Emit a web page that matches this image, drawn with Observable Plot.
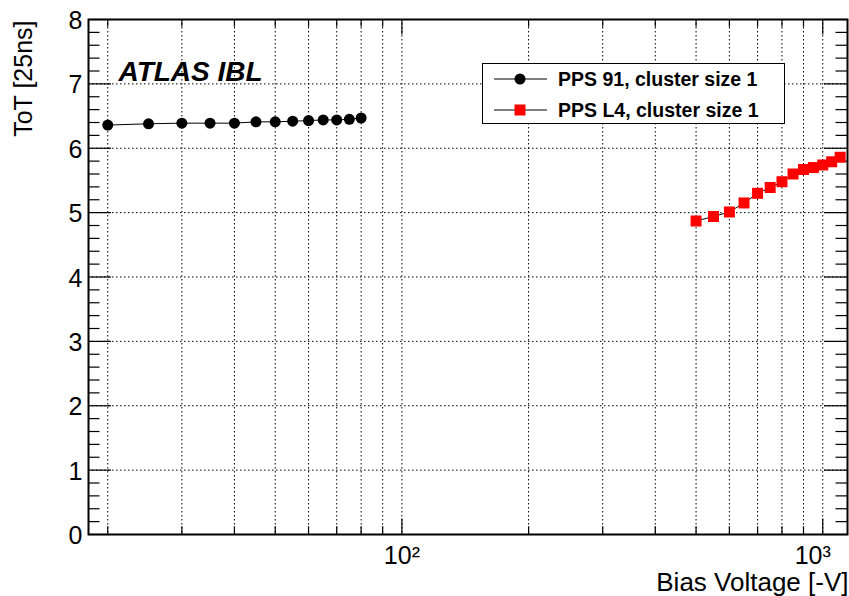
<!DOCTYPE html>
<html>
<head>
<meta charset="utf-8">
<script src="https://cdn.jsdelivr.net/npm/d3@7"></script>
<script src="https://cdn.jsdelivr.net/npm/@observablehq/plot@0.6"></script>
<style>
  html, body { margin: 0; padding: 0; background: #fff; }
  #chart { width: 849px; height: 596px; }
</style>
</head>
<body>
<div id="chart"></div>
<script>
// ---- data ----
const pps91Voltage = [20, 25, 30, 35, 40, 45, 50, 55, 60, 65, 70, 75, 80];
const pps91ToT = [6.36, 6.38, 6.39, 6.39, 6.39, 6.41, 6.41, 6.42, 6.43, 6.44, 6.44, 6.45, 6.47];
const ppsL4Voltage = [500, 550, 600, 650, 700, 750, 800, 850, 900, 950, 1000, 1050, 1100];
const ppsL4ToT = [4.87, 4.94, 5.01, 5.15, 5.30, 5.39, 5.48, 5.60, 5.67, 5.70, 5.74, 5.79, 5.86];
const seriesNames = ["PPS 91, cluster size 1", "PPS L4, cluster size 1"];
const xMajorTicks = [100, 1000];
const xMajorLabels = ["10²", "10³"];
const xMinorTicks = [20, 30, 40, 50, 60, 70, 80, 90, 200, 300, 400, 500, 600, 700, 800, 900];
const yMajorTicks = [0, 1, 2, 3, 4, 5, 6, 7, 8];
const yMinorTicks = d3.range(0, 40).map(i => i / 5).filter(v => !Number.isInteger(v));
const xTitle = "Bias Voltage [-V]";
const yTitle = "ToT [25ns]";
const annotation = "ATLAS IBL";

// ---- layout ----
const W = 849, H = 596;
const mL = 88, mR = 2, mT = 19, mB = 62;
const fw = W - mL - mR, fh = H - mT - mB;
const font = "'Liberation Sans', Arial, Helvetica, sans-serif";

const black = pps91Voltage.map((v, i) => ({v, t: pps91ToT[i]}));
const red = ppsL4Voltage.map((v, i) => ({v, t: ppsL4ToT[i]}));
const xLabels = xMajorTicks.map((v, i) => ({v, label: xMajorLabels[i]}));
const dash = "1.5,2.5";

const chart = Plot.plot({
  width: W, height: H,
  marginLeft: mL, marginRight: mR, marginTop: mT, marginBottom: mB,
  style: {fontFamily: font, background: "#fff", color: "#000"},
  x: {type: "log", domain: [18, 1145], axis: null},
  y: {domain: [0, 8], axis: null},
  marks: [
    Plot.gridX([...xMinorTicks, ...xMajorTicks], {stroke: "#000", strokeOpacity: 1, strokeWidth: 1, strokeDasharray: dash}),
    Plot.gridY(yMajorTicks.slice(1, -1), {stroke: "#000", strokeOpacity: 1, strokeWidth: 1, strokeDasharray: dash}),
    // y ticks (inside, left and right)
    Plot.tickY(yMajorTicks, {y: d => d, insetRight: fw - 23, stroke: "#000", strokeWidth: 1.2}),
    Plot.tickY(yMajorTicks, {y: d => d, insetLeft: fw - 23, stroke: "#000", strokeWidth: 1.2}),
    Plot.tickY(yMinorTicks, {y: d => d, insetRight: fw - 11.5, stroke: "#000", strokeWidth: 1.2}),
    Plot.tickY(yMinorTicks, {y: d => d, insetLeft: fw - 11.5, stroke: "#000", strokeWidth: 1.2}),
    // x ticks (inside, bottom and top)
    Plot.tickX(xMajorTicks, {x: d => d, insetTop: fh - 15.5, stroke: "#000", strokeWidth: 1.2}),
    Plot.tickX(xMajorTicks, {x: d => d, insetBottom: fh - 15.5, stroke: "#000", strokeWidth: 1.2}),
    Plot.tickX(xMinorTicks, {x: d => d, insetTop: fh - 7.7, stroke: "#000", strokeWidth: 1.2}),
    Plot.tickX(xMinorTicks, {x: d => d, insetBottom: fh - 7.7, stroke: "#000", strokeWidth: 1.2}),
    Plot.frame({stroke: "#000", strokeWidth: 2}),
    // y tick labels
    Plot.axisY(yMajorTicks, {tickSize: 0, tickPadding: 6, fontSize: 25, dy: 1.5, label: null, tickFormat: d => String(d)}),
    // x tick labels
    Plot.text(xLabels.filter(d => d.v === 100), {x: "v", text: "label", frameAnchor: "bottom", lineAnchor: "bottom", dy: 29, fontSize: 25}),
    Plot.text(xLabels.filter(d => d.v === 1000), {x: "v", text: "label", frameAnchor: "bottom", lineAnchor: "bottom", dy: 29, dx: -10, fontSize: 25}),
    // data
    Plot.line(black, {x: "v", y: "t", stroke: "#000", strokeWidth: 1}),
    Plot.dot(black, {x: "v", y: "t", r: 5.5, fill: "#000", stroke: null}),
    Plot.line(red, {x: "v", y: "t", stroke: "#000", strokeWidth: 1}),
    Plot.dot(red, {x: "v", y: "t", r: 6.2, symbol: "square", fill: "#ff0000", stroke: null}),
    // titles
    Plot.text([xTitle], {frameAnchor: "bottom-right", textAnchor: "end", lineAnchor: "bottom", dy: 56, dx: 1, fontSize: 26}),
    Plot.text([yTitle], {frameAnchor: "top-left", textAnchor: "end", lineAnchor: "bottom", rotate: -90, dx: -57, dy: 1, fontSize: 25}),
    Plot.text([annotation], {frameAnchor: "top-left", textAnchor: "start", lineAnchor: "bottom", dx: 30, dy: 61, fontSize: 28, fontWeight: "bold", fontStyle: "italic"})
  ]
});

// ---- legend ----
const svg = d3.select(chart);
const lg = svg.append("g").attr("font-family", font).attr("text-anchor", "start");
lg.append("rect").attr("x", 482.5).attr("y", 63.5).attr("width", 302).attr("height", 60)
  .attr("fill", "#fff").attr("stroke", "#000").attr("stroke-width", 1);
const rows = [79, 110];
rows.forEach((ry, i) => {
  lg.append("line").attr("x1", 494).attr("x2", 547).attr("y1", ry).attr("y2", ry)
    .attr("stroke", "#000").attr("stroke-width", 1);
  if (i === 0) {
    lg.append("circle").attr("cx", 520).attr("cy", ry).attr("r", 5.5).attr("fill", "#000");
  } else {
    lg.append("rect").attr("x", 514.5).attr("y", ry - 5.5).attr("width", 11).attr("height", 11).attr("fill", "#ff0000");
  }
  lg.append("text").attr("x", 558).attr("y", ry + 7).attr("font-size", 19.5).attr("font-weight", "bold")
    .attr("text-anchor", "start").attr("fill", "#000").text(seriesNames[i]);
});

document.getElementById("chart").appendChild(chart);
</script>
</body>
</html>
